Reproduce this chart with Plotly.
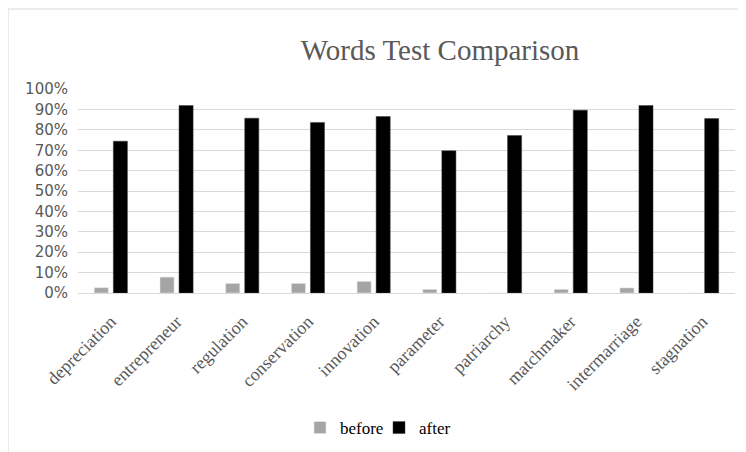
import plotly.graph_objects as go

categories = ["depreciation", "entrepreneur", "regulation", "conservation", "innovation",
              "parameter", "patriarchy", "matchmaker", "intermarriage", "stagnation"]
before = [0.026, 0.078, 0.047, 0.047, 0.057, 0.018, 0.0, 0.018, 0.025, 0.0]
after = [0.745, 0.92, 0.858, 0.837, 0.866, 0.698, 0.773, 0.897, 0.92, 0.856]
y_ticks = [0, 0.1, 0.2, 0.3, 0.4, 0.5, 0.6, 0.7, 0.8, 0.9, 1.0]
y_tick_labels = ["0%", "10%", "20%", "30%", "40%", "50%", "60%", "70%", "80%", "90%", "100%"]

W, H = 746, 452
OFF = 8  # page offset of the figure inside the window
L, T = 78 - OFF, 89 - OFF
R = W - (735 - OFF)
B = H - (293 - OFF)
pw, ph = W - L - R, H - T - B
top_border = 1 + (T - 1) / ph
left_border = (0 - L) / pw

fig = go.Figure()
fig.add_trace(go.Bar(name="before", x=categories, y=before, marker_color="#a5a5a5"))
fig.add_trace(go.Bar(name="after", x=categories, y=after, marker_color="#000000",
                     marker_line=dict(color="#404040", width=0.5)))

fig.update_layout(
    width=W, height=H,
    margin=dict(l=L, r=R, t=T, b=B),
    paper_bgcolor="white", plot_bgcolor="white",
    barmode="group", bargap=0.42, bargroupgap=0.26,
    title=dict(text="Words Test Comparison", xref="container", yref="container",
               x=(440 - OFF) / W, y=1 - (50 - OFF) / H, xanchor="center", yanchor="middle",
               font=dict(family="Liberation Serif", size=29, color="#595959")),
    legend=dict(orientation="h", x=(379 - 78) / pw, y=(293 - 428) / ph,
                xanchor="center", yanchor="middle",
                font=dict(family="Liberation Serif", size=17, color="#000000"),
                itemwidth=30, entrywidth=34, traceorder="normal"),
    xaxis=dict(tickangle=-45, showgrid=False, showline=False,
               ticks="outside", ticklen=10, tickcolor="rgba(0,0,0,0)",
               tickfont=dict(family="Liberation Serif", size=18, color="#595959")),
    yaxis=dict(range=[0, 1.001], tickvals=y_ticks, ticktext=y_tick_labels,
               showgrid=True, gridcolor="#d9d9d9", gridwidth=1,
               zeroline=True, zerolinecolor="#d9d9d9", zerolinewidth=1,
               showline=False, ticks="outside", ticklen=6, tickcolor="rgba(0,0,0,0)",
               tickfont=dict(family="DejaVu Sans", size=15, color="#595959")),
    shapes=[
        dict(type="line", xref="paper", yref="paper",
             x0=left_border, x1=left_border, y0=top_border, y1=-B / ph - 0.1,
             line=dict(color="#d9d9d9", width=1)),
        dict(type="line", xref="paper", yref="paper",
             x0=left_border, x1=(W + 20 - L) / pw, y0=top_border, y1=top_border,
             line=dict(color="#d9d9d9", width=1)),
    ],
)

fig.write_html("out.html")
